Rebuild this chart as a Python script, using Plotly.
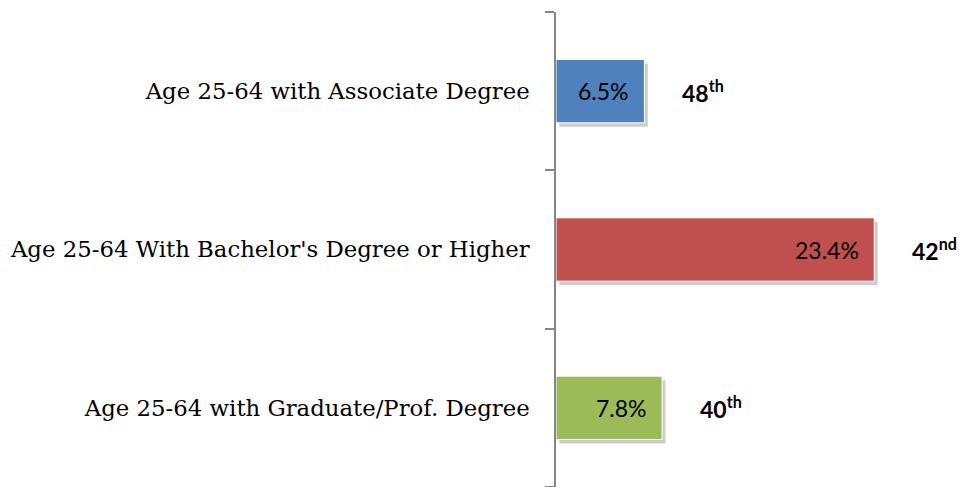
import plotly.graph_objects as go

# Данные
categories = [
    'Age 25-64 with Associate Degree',
    "Age 25-64 With Bachelor's Degree or Higher",
    'Age 25-64 with Graduate/Prof. Degree',
]
values = [6.5, 23.4, 7.8]
value_labels = ['6.5%', '23.4%', '7.8%']
ranks = ['48<sup>th</sup>', '42<sup>nd</sup>', '40<sup>th</sup>']
colors = ['#4F81BD', '#C0504D', '#9BBB59']

fig = go.Figure()

# тень под столбцами (на нижних осях со сдвинутым диапазоном)
fig.add_trace(go.Bar(
    y=categories,
    x=values,
    orientation='h',
    marker=dict(color='rgba(0,0,0,0.2)', line=dict(width=0)),
    hoverinfo='skip',
    showlegend=False
))

# сами столбцы на верхних осях
fig.add_trace(go.Bar(
    y=categories,
    x=values,
    orientation='h',
    marker=dict(color=colors, line=dict(color='white', width=1)),
    xaxis='x2',
    yaxis='y2',
    showlegend=False
))

for cat, v, lab, rk in zip(categories, values, value_labels, ranks):
    fig.add_annotation(
        x=v, y=cat, xref='x2', yref='y2', text=lab, showarrow=False,
        xanchor='right', xshift=-13,
        font=dict(family='Lato', size=23, color='black')
    )
    fig.add_annotation(
        x=v, y=cat, xref='x2', yref='y2', text='<b>' + rk + '</b>', showarrow=False,
        xanchor='left', xshift=36,
        font=dict(family='Lato', size=23, color='black')
    )

# страница смещена на 8px (отступ body), поэтому поля слева и сверху меньше
fig.update_layout(
    width=967,
    height=479,
    margin=dict(l=548, r=11, t=4, b=0),
    plot_bgcolor='white',
    paper_bgcolor='white',
    bargap=0.6,
    xaxis=dict(range=[-0.25, 29.75], visible=False, automargin=False),
    yaxis=dict(
        categoryorder='array',
        categoryarray=categories[::-1],
        range=[-0.475, 2.525],
        visible=False,
        automargin=False
    ),
    xaxis2=dict(range=[0, 30], visible=False, overlaying='x', anchor='y2', automargin=False),
    yaxis2=dict(
        categoryorder='array',
        categoryarray=categories[::-1],
        range=[-0.5, 2.5],
        overlaying='y',
        anchor='x2',
        side='left',
        automargin=False,
        showline=True,
        linecolor='#868686',
        linewidth=1.5,
        ticks='outside',
        tickson='boundaries',
        ticklen=9,
        tickcolor='#868686',
        tickwidth=1.5,
        ticklabelstandoff=20,
        tickfont=dict(family='DejaVu Serif', size=22.8, color='black'),
    ),
)

fig.write_html('out.html')
